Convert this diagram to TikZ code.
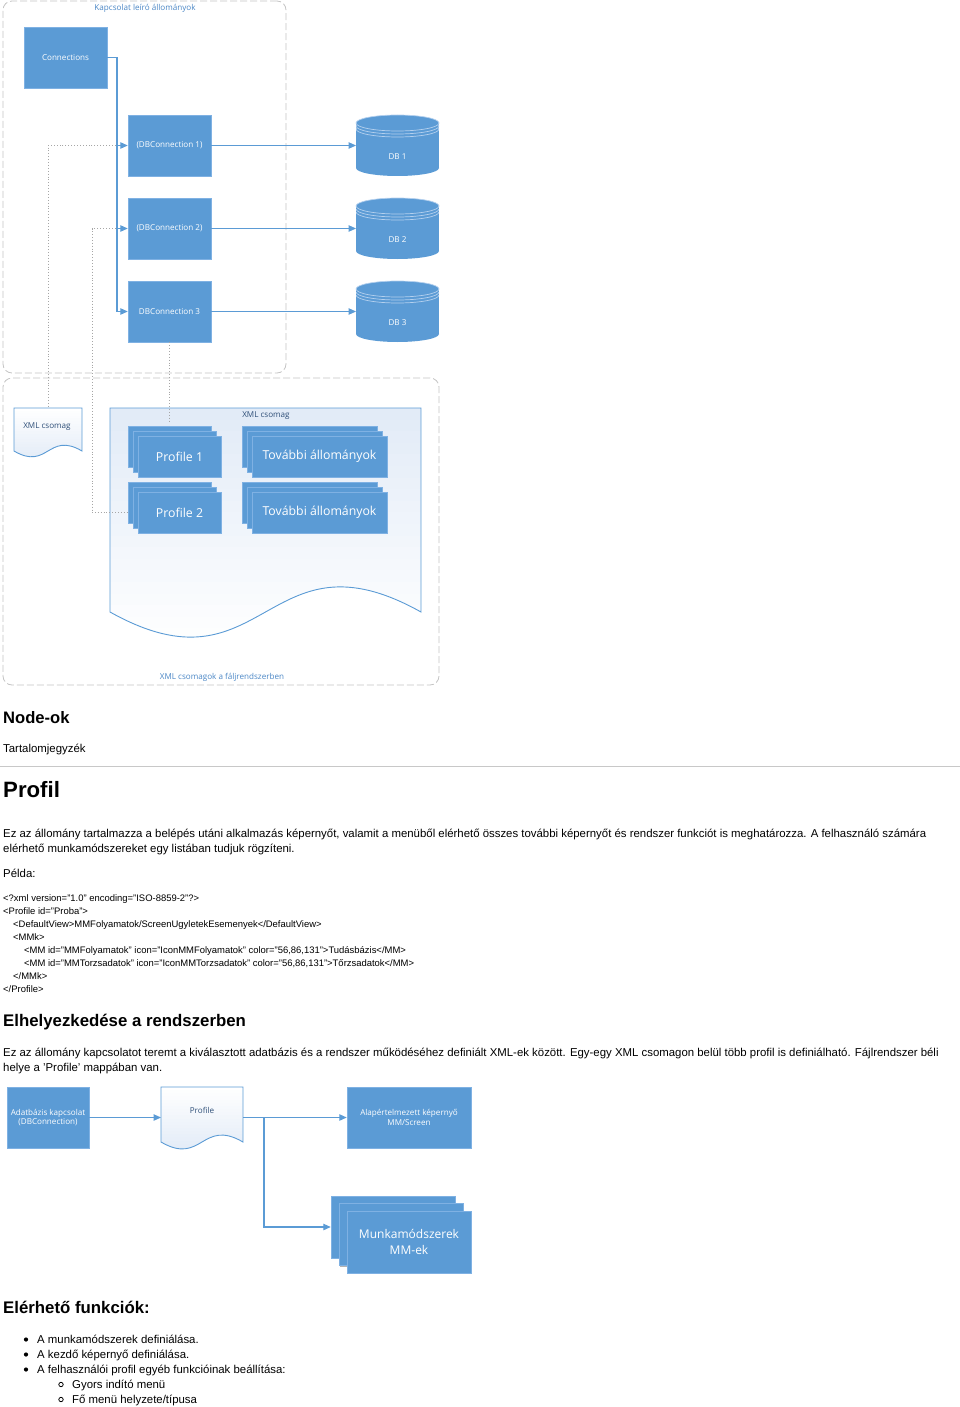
\documentclass[tikz,border=0pt]{standalone}
\usepackage{fontspec}
\setmainfont{Liberation Sans}
\newfontfamily\dgm{Open Sans}
\usetikzlibrary{arrows.meta,shadows}
\definecolor{boxblue}{HTML}{5B9BD5}
\definecolor{boxedge}{HTML}{7FB1E3}
\definecolor{lineblue}{HTML}{5B9BD5}
\definecolor{ringcol}{HTML}{B4D0EE}
\definecolor{dotgray}{HTML}{A6A6A6}
\definecolor{contgray}{HTML}{C4C4C4}
\definecolor{lblblue}{HTML}{4A86C5}
\definecolor{darklbl}{HTML}{2F4F78}
\definecolor{docfill}{HTML}{E2EBF7}
\definecolor{rulegray}{HTML}{C8C8C8}
\newcommand\smallf{\dgm\fontsize{8.1}{9.6}\selectfont}
\newcommand\bigf{\dgm\fontsize{12.3}{14}\selectfont}
\newcommand\hugef{\dgm\fontsize{12}{16}\selectfont}
\newcommand\bodyf{\fontsize{11.4}{13}\selectfont}
\newcommand\codef{\fontsize{9.45}{11}\selectfont}
\tikzset{
  bline/.style={draw=lineblue, line width=1.1pt},
  arr/.style={-{Triangle[length=7.5pt,width=6.5pt]}},
  dots/.style={draw=dotgray, line width=0.9pt, dash pattern=on 0.9pt off 2pt},
  cont/.style={draw=contgray, line width=0.8pt, dash pattern=on 7pt off 3pt, rounded corners=9pt, inner sep=0pt},
  box/.style={draw=boxedge, fill=boxblue, line width=0.5pt, text=white, align=center, inner sep=0pt,
     font=\smallf, drop shadow={shadow xshift=0.8pt, shadow yshift=-1.2pt, opacity=0.3, fill=black}},
  ghost/.style={inner sep=0pt, outer sep=0pt},
  txt/.style={anchor=base west, inner sep=0pt, font=\bodyf},
  code/.style={anchor=base west, inner sep=0pt, font=\codef},
  doc/.style={draw=lineblue, line width=0.9pt},
}
\newcommand\drawdb[2]{%
  \fill[boxblue] ([yshift=-8pt]#1.north west) rectangle ([yshift=8pt]#1.south east);
  \fill[boxblue] ([yshift=8pt]#1.south) ellipse (41.5 and 8);
  \fill[boxblue] ([yshift=-8pt]#1.north) ellipse (41.5 and 8);
  \draw[ringcol, line width=0.7pt] ([yshift=-8pt]#1.north) ellipse (41.5 and 8);
  \begin{scope}
    \clip ([yshift=-11pt]#1.north west) rectangle ([yshift=-22pt]#1.north east);
    \draw[ringcol, line width=0.7pt] ([yshift=-11pt]#1.north) ellipse (41.5 and 8);
  \end{scope}
  \begin{scope}
    \clip ([yshift=-14pt]#1.north west) rectangle ([yshift=-25pt]#1.north east);
    \draw[ringcol, line width=0.7pt] ([yshift=-14pt]#1.north) ellipse (41.5 and 8);
  \end{scope}
  \node[font=\smallf, text=white] at ([yshift=-11.5pt]#1.center) {#2};
}
% gradient strips: #1 x-left, #2 x-right, #3 y-top, #4 y-bottom, #5 = 1 for blue at top, 0 for blue at bottom
\newcommand\gradstrips[5]{%
  \foreach \i in {0,...,19}{%
    \pgfmathsetmacro\ya{#3+(#4-#3)*\i/20}%
    \pgfmathsetmacro\yb{#3+(#4-#3)*(\i+1.1)/20}%
    \pgfmathtruncatemacro\pc{#5==1 ? 100-\i*5 : \i*5}%
    \fill[docfill!\pc!white] (#1,\ya) rectangle (#2,\yb);
  }%
}
\begin{document}
\begin{tikzpicture}[x=1pt,y=-1pt]
\useasboundingbox (0,0) rectangle (960,1407);

% ---------- containers ----------
\node[cont, minimum width=283pt, minimum height=372pt] (c1) at (144.5,187) {};
\node[font=\smallf, text=lblblue] (c1lbl) at (145,8) {Kapcsolat leíró állományok};
\node[cont, minimum width=436pt, minimum height=307pt] (c2) at (221,531.5) {};
\node[font=\smallf, text=lblblue] (c2lbl) at (222,677) {XML csomagok a fáljrendszerben};

% ---------- top boxes ----------
\node[box, minimum width=83pt, minimum height=61pt] (conn) at (65.5,57.5) {Connections};
\node[box, minimum width=83pt, minimum height=61pt] (dbc1) at (169.5,145.5) {(DBConnection 1)};
\node[box, minimum width=83pt, minimum height=61pt] (dbc2) at (169.5,228.5) {(DBConnection 2)};
\node[box, minimum width=83pt, minimum height=61pt] (dbc3) at (169.5,311.5) {DBConnection 3};

\node[ghost, minimum width=83pt, minimum height=61pt] (db1) at (397.5,145.5) {};
\node[ghost, minimum width=83pt, minimum height=61pt] (db2) at (397.5,228.5) {};
\node[ghost, minimum width=83pt, minimum height=61pt] (db3) at (397.5,311.5) {};
\drawdb{db1}{DB 1}
\drawdb{db2}{DB 2}
\drawdb{db3}{DB 3}

% ---------- documents ----------
\node[ghost, minimum width=68pt, minimum height=49pt] (xmls) at (48,432.5) {};
\begin{scope}
  \clip (14,408) -- (82,408) -- (82,451) .. controls (48,431) and (48,471) .. (14,451) -- cycle;
  \gradstrips{14}{82}{408}{460}{0}
\end{scope}
\draw[doc] (14,408) -- (82,408) -- (82,451) .. controls (48,431) and (48,471) .. (14,451) -- cycle;
\node[font=\smallf, text=darklbl] (xmlslbl) at (47,427) {XML csomag};

\node[ghost, minimum width=311pt, minimum height=230pt] (xmlb) at (265.5,523) {};
\begin{scope}
  \clip (110,408) -- (421,408) -- (421,612) .. controls (265.5,525) and (265.5,699) .. (110,612) -- cycle;
  \gradstrips{110}{421}{408}{640}{1}
\end{scope}
\draw[doc] (110,408) -- (421,408) -- (421,612) .. controls (265.5,525) and (265.5,699) .. (110,612) -- cycle;
\node[font=\smallf, text=darklbl] (xmlblbl) at (266,416) {XML csomag};

% ---------- stacks ----------
\node[box, minimum width=83pt, minimum height=41pt] (p1b) at (169.5,446.5) {};
\node[box, minimum width=83pt, minimum height=41pt] (p1m) at (174.5,451.5) {};
\node[box, minimum width=83pt, minimum height=41pt, font=\bigf] (p1) at (179.5,456.5) {Profile 1};
\node[box, minimum width=83pt, minimum height=41pt] (p2b) at (169.5,502.5) {};
\node[box, minimum width=83pt, minimum height=41pt] (p2m) at (174.5,507.5) {};
\node[box, minimum width=83pt, minimum height=41pt, font=\bigf] (p2) at (179.5,512.5) {Profile 2};
\node[box, minimum width=135pt, minimum height=41pt] (t1b) at (309.5,446.5) {};
\node[box, minimum width=135pt, minimum height=41pt] (t1m) at (314.5,451.5) {};
\node[box, minimum width=135pt, minimum height=41pt, font=\bigf] (t1) at (319.5,456.5) {További állományok};
\node[box, minimum width=135pt, minimum height=41pt] (t2b) at (309.5,502.5) {};
\node[box, minimum width=135pt, minimum height=41pt] (t2m) at (314.5,507.5) {};
\node[box, minimum width=135pt, minimum height=41pt, font=\bigf] (t2) at (319.5,512.5) {További állományok};

% ---------- top connectors ----------
\coordinate (cj) at (117,57.5);
\draw[bline] (conn.east) -- (cj) -- (cj |- dbc3.west);
\draw[bline, arr] (cj |- dbc3.west) -- (dbc3.west);
\draw[bline, arr] (cj |- dbc2.west) -- (dbc2.west);
\draw[bline, arr] (cj |- dbc1.west) -- (dbc1.west);
\draw[bline, arr] (dbc1.east) -- (db1.west);
\draw[bline, arr] (dbc2.east) -- (db2.west);
\draw[bline, arr] (dbc3.east) -- (db3.west);

\coordinate (d2) at (92,512.5);
\draw[dots] ([xshift=-1.5pt]cj |- dbc1.west) -| (xmls.north);
\draw[dots] ([xshift=-1.5pt]cj |- dbc2.west) -| (d2) -- (p2b.west |- d2);
\draw[dots] (dbc3.south) -- ([yshift=4pt]p1b.north -| dbc3.south);

% ---------- text ----------
\node[anchor=base west, inner sep=0pt, font=\fontsize{16.6}{19}\selectfont\bfseries] (h1) at (3,723) {Node-ok};
\node[txt] (toc) at (3,752) {Tartalomjegyzék};
\draw[rulegray, line width=1.6pt] (0,766.5) -- (960,766.5);
\node[anchor=base west, inner sep=0pt, font=\fontsize{22.2}{26}\selectfont\bfseries] (h2) at (3,797) {Profil};
\node[txt] (p1l1) at (3,837) {Ez az állomány tartalmazza a belépés utáni alkalmazás képernyőt, valamit a menüből elérhető összes további képernyőt és rendszer funkciót is meghatározza. A felhasználó számára};
\node[txt] (p1l2) at (3,852) {elérhető munkamódszereket egy listában tudjuk rögzíteni.};
\node[txt] (pelda) at (3,877) {Példa:};

\node[code] (k1) at (3,901) {<?xml version="1.0" encoding="ISO-8859-2"?>};
\node[code] (k2) at (3,914) {<Profile id="Proba">};
\node[code] (k3) at (13,927) {<DefaultView>MMFolyamatok/ScreenUgyletekEsemenyek</DefaultView>};
\node[code] (k4) at (13,940) {<MMk>};
\node[code] (k5) at (24,953) {<MM id="MMFolyamatok" icon="IconMMFolyamatok" color="56,86,131">Tudásbázis</MM>};
\node[code] (k6) at (24,966) {<MM id="MMTorzsadatok" icon="IconMMTorzsadatok" color="56,86,131">Tőrzsadatok</MM>};
\node[code] (k7) at (13,979) {</MMk>};
\node[code] (k8) at (3,992) {</Profile>};

\node[anchor=base west, inner sep=0pt, font=\fontsize{16.8}{19}\selectfont\bfseries] (h3) at (3,1026) {Elhelyezkedése a rendszerben};
\node[txt] (p2l1) at (3,1056) {Ez az állomány kapcsolatot teremt a kiválasztott adatbázis és a rendszer működéséhez definiált XML-ek között. Egy-egy XML csomagon belül több profil is definiálható. Fájlrendszer béli};
\node[txt] (p2l2) at (3,1071) {helye a ’Profile’ mappában van.};

% ---------- bottom diagram ----------
\node[box, minimum width=82pt, minimum height=61pt] (adb) at (48,1117.5) {Adatbázis kapcsolat\\(DBConnection)};
\node[ghost, minimum width=82pt, minimum height=61pt] (pdoc) at (202,1117.5) {};
\begin{scope}
  \clip (161,1087) -- (243,1087) -- (243,1142) .. controls (202,1118) and (202,1166) .. (161,1142) -- cycle;
  \gradstrips{161}{243}{1087}{1150}{0}
\end{scope}
\draw[doc] (161,1087) -- (243,1087) -- (243,1142) .. controls (202,1118) and (202,1166) .. (161,1142) -- cycle;
\node[font=\smallf, text=darklbl] (pdoclbl) at (202,1110) {Profile};
\node[box, minimum width=124pt, minimum height=61pt] (alap) at (409,1117.5) {Alapértelmezett képernyő\\MM/Screen};
\node[box, minimum width=124pt, minimum height=62pt] (mkb) at (393,1227) {};
\node[box, minimum width=124pt, minimum height=62pt] (mkm) at (401,1234.5) {};
\node[box, minimum width=124pt, minimum height=62pt, font=\hugef] (mk) at (409,1242) {Munkamódszerek\\MM-ek};

\coordinate (pj) at (264,1117.5);
\draw[bline, arr] (adb.east) -- (pdoc.west);
\draw[bline] (pdoc.east) -- (pj);
\draw[bline, arr] (pj) -- (alap.west);
\draw[bline, arr] (pj) |- (mkb.west);

% ---------- list ----------
\node[anchor=base west, inner sep=0pt, font=\fontsize{16.8}{19}\selectfont\bfseries] (h4) at (3,1313) {Elérhető funkciók:};
\fill (26,1339.5) circle (2.1);
\fill (26,1354.5) circle (2.1);
\fill (26,1369.5) circle (2.1);
\draw[line width=0.8pt] (61,1384.5) circle (2.2);
\draw[line width=0.8pt] (61,1399.5) circle (2.2);
\node[txt] (b1) at (37,1343) {A munkamódszerek definiálása.};
\node[txt] (b2) at (37,1358) {A kezdő képernyő definiálása.};
\node[txt] (b3) at (37,1373) {A felhasználói profil egyéb funkcióinak beállítása:};
\node[txt] (b4) at (72,1388) {Gyors indító menü};
\node[txt] (b5) at (72,1403) {Fő menü helyzete/típusa};
\end{tikzpicture}
\end{document}
